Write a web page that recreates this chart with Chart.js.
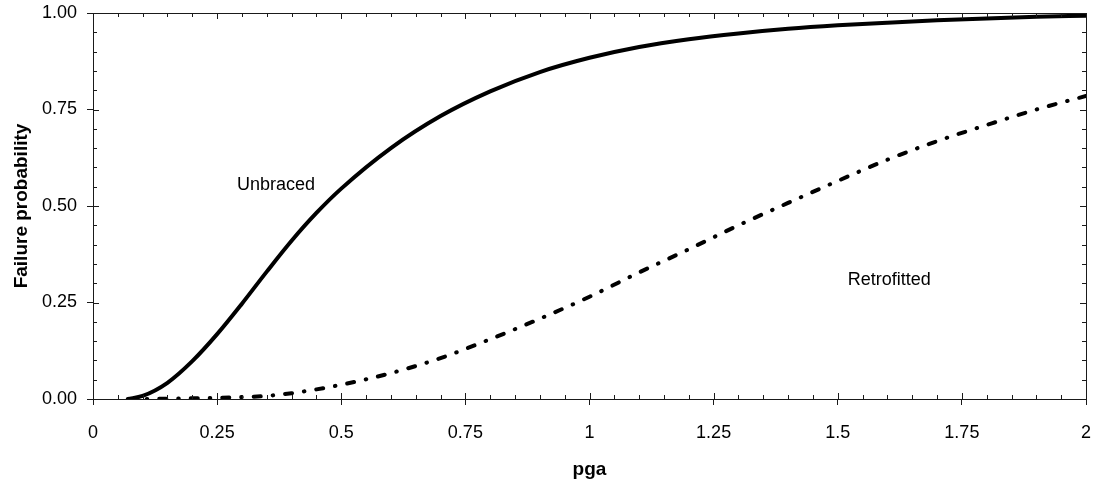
<!DOCTYPE html>
<html>
<head>
<meta charset="utf-8">
<script src="https://cdn.jsdelivr.net/npm/chart.js@4/dist/chart.umd.min.js"></script>
<style>
	html, body { margin: 0; padding: 0; background: #fff; }
	#wrap { width: 1093px; height: 481px; }
</style>
</head>
<body>
<div id="wrap"><canvas id="myChart"></canvas></div>
<script>
// Data
const pga = [0.07, 0.1, 0.15, 0.2, 0.25, 0.3, 0.35, 0.4, 0.45, 0.5, 0.6, 0.7, 0.8, 0.9, 1.0, 1.1, 1.2, 1.3, 1.4, 1.5, 1.6, 1.7, 1.8, 1.9, 2.0];
const unbraced = [0, 0.008, 0.042, 0.098, 0.168, 0.247, 0.33, 0.41, 0.482, 0.545, 0.65, 0.733, 0.797, 0.847, 0.884, 0.912, 0.932, 0.947, 0.959, 0.968, 0.975, 0.981, 0.986, 0.99, 0.993];
const retrofitted = [0, 0, 0.001, 0.002, 0.003, 0.005, 0.008, 0.015, 0.025, 0.037, 0.067, 0.106, 0.155, 0.208, 0.265, 0.328, 0.388, 0.45, 0.508, 0.565, 0.62, 0.668, 0.71, 0.75, 0.785];
const xTicks = [0, 0.25, 0.5, 0.75, 1, 1.25, 1.5, 1.75, 2];
const yTicks = [0, 0.25, 0.5, 0.75, 1];
const curveLabels = [
	{ text: "Unbraced", x: 0.29, y: 0.554 },
	{ text: "Retrofitted", x: 1.52, y: 0.308 },
];

const ink = "#1a1a1a";
const fontFamily = "'Liberation Sans', Arial, sans-serif";
const toPoints = (xs, ys) => xs.map((v, i) => ({ x: v, y: ys[i] }));

// inner ticks on all four sides + top/right frame + curve labels
const frameTicks = {
	id: "frameTicks",
	afterDraw(chart) {
		const { ctx, chartArea: a, scales } = chart;
		const x = scales.x, y = scales.y;
		ctx.save();
		ctx.strokeStyle = ink;
		ctx.lineWidth = 1;
		ctx.beginPath();
		ctx.moveTo(a.left, a.top + 0.5);
		ctx.lineTo(a.right + 0.5, a.top + 0.5);
		ctx.lineTo(a.right + 0.5, a.bottom);
		for (let i = 0; i <= 40; i++) {
			const px = Math.round(x.getPixelForValue(i * 0.05)) + 0.5;
			const len = i % 5 === 0 ? 6 : 4;
			ctx.moveTo(px, a.bottom);
			ctx.lineTo(px, a.bottom - len);
			ctx.moveTo(px, a.top);
			ctx.lineTo(px, a.top + len);
		}
		for (let i = 0; i <= 20; i++) {
			const py = Math.round(y.getPixelForValue(i * 0.05)) + 0.5;
			const len = i % 5 === 0 ? 6 : 4;
			ctx.moveTo(a.left, py);
			ctx.lineTo(a.left + len, py);
			ctx.moveTo(a.right, py);
			ctx.lineTo(a.right - len, py);
		}
		ctx.stroke();

		ctx.fillStyle = "#000";
		ctx.font = "18px " + fontFamily;
		ctx.textBaseline = "middle";
		ctx.textAlign = "left";
		curveLabels.forEach((l) => {
			ctx.fillText(l.text, x.getPixelForValue(l.x), y.getPixelForValue(l.y));
		});
		ctx.restore();
	},
};

var ctx = document.getElementById("myChart").getContext("2d");
var myChart = new Chart(ctx, {
	type: "scatter",
	data: {
		datasets: [
			{
				label: "Unbraced",
				data: toPoints(pga, unbraced),
				showLine: true,
				borderColor: "#000",
				borderWidth: 4,
				pointRadius: 0,
				cubicInterpolationMode: "monotone",
			},
			{
				label: "Retrofitted",
				data: toPoints(pga, retrofitted),
				showLine: true,
				borderColor: "#000",
				borderWidth: 4,
				borderDash: [7, 12, 0.5, 12],
				borderCapStyle: "round",
				pointRadius: 0,
				cubicInterpolationMode: "monotone",
			},
		],
	},
	options: {
		responsive: true,
		maintainAspectRatio: false,
		animation: false,
		layout: { padding: { top: 13, right: 7, left: 0, bottom: 0 } },
		plugins: {
			legend: { display: false },
			tooltip: { enabled: false },
		},
		scales: {
			x: {
				type: "linear",
				min: 0,
				max: 2,
				afterBuildTicks: (s) => { s.ticks = xTicks.map((v) => ({ value: v })); },
				afterFit: (s) => {
					s.height = 82;
					s.paddingLeft = 0;
					s.paddingRight = 0;
				},
				grid: { display: true, drawOnChartArea: false, tickLength: 6, color: ink },
				border: { display: true, color: ink, width: 1 },
				ticks: {
					color: "#000",
					padding: 17,
					maxRotation: 0,
					font: { family: fontFamily, size: 18 },
					callback: (v) => String(v),
				},
				title: {
					display: true,
					text: "pga",
					color: "#000",
					padding: { top: 0, bottom: 0 },
					font: { family: fontFamily, size: 19, weight: "bold" },
				},
			},
			y: {
				type: "linear",
				min: 0,
				max: 1,
				afterBuildTicks: (s) => { s.ticks = yTicks.map((v) => ({ value: v })); },
				afterFit: (s) => {
					s.width = 93;
					s.paddingTop = 0;
					s.paddingBottom = 0;
				},
				grid: { display: true, drawOnChartArea: false, tickLength: 6, color: ink },
				border: { display: true, color: ink, width: 1 },
				ticks: {
					color: "#000",
					padding: 10,
					font: { family: fontFamily, size: 18 },
					callback: (v) => Number(v).toFixed(2),
				},
				title: {
					display: true,
					text: "Failure probability",
					color: "#000",
					padding: { top: 10, bottom: 0 },
					font: { family: fontFamily, size: 19, weight: "bold" },
				},
			},
		},
	},
	plugins: [frameTicks],
});
</script>
</body>
</html>
